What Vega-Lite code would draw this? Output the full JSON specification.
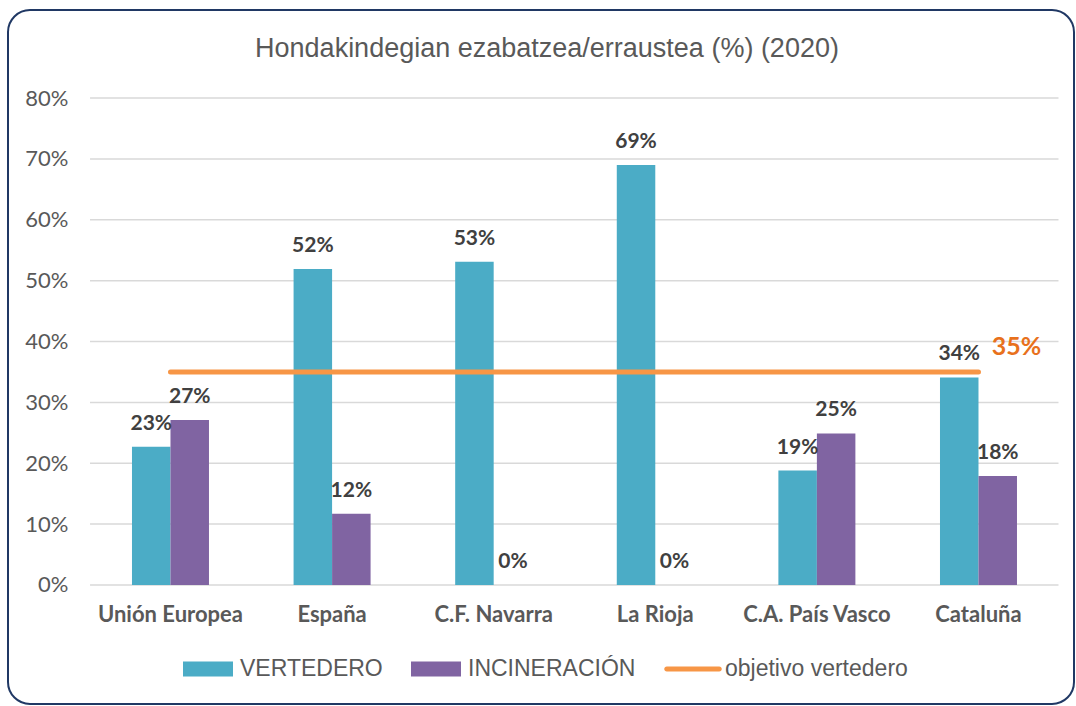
{
  "$schema": "https://vega.github.io/schema/vega-lite/v6.json",
  "width": 1066,
  "height": 694,
  "autosize": {"type": "none"},
  "padding": {"left": 8, "top": 10, "right": 2, "bottom": 2},
  "background": "white",
  "config": {
    "view": {"stroke": "#203864", "strokeWidth": 2, "cornerRadius": 22, "fill": "white"}
  },
  "title": {
    "text": "Hondakindegian ezabatzea/erraustea (%) (2020)",
    "font": "Liberation Sans Narrow, Arial Narrow, Liberation Sans, sans-serif",
    "fontSize": 27,
    "fontWeight": "normal",
    "color": "#595959",
    "anchor": "middle",
    "frame": "group",
    "orient": "top",
    "offset": -66,
    "baseline": "middle",
    "dx": 6
  },
  "datasets": {
    "bars": [
      {"categoria": "Unión Europea", "serie": "VERTEDERO", "valor": 0.227},
      {"categoria": "Unión Europea", "serie": "INCINERACIÓN", "valor": 0.271},
      {"categoria": "España", "serie": "VERTEDERO", "valor": 0.519},
      {"categoria": "España", "serie": "INCINERACIÓN", "valor": 0.117},
      {"categoria": "C.F. Navarra", "serie": "VERTEDERO", "valor": 0.531},
      {"categoria": "C.F. Navarra", "serie": "INCINERACIÓN", "valor": 0},
      {"categoria": "La Rioja", "serie": "VERTEDERO", "valor": 0.69},
      {"categoria": "La Rioja", "serie": "INCINERACIÓN", "valor": 0},
      {"categoria": "C.A. País Vasco", "serie": "VERTEDERO", "valor": 0.188},
      {"categoria": "C.A. País Vasco", "serie": "INCINERACIÓN", "valor": 0.249},
      {"categoria": "Cataluña", "serie": "VERTEDERO", "valor": 0.341},
      {"categoria": "Cataluña", "serie": "INCINERACIÓN", "valor": 0.179}
    ],
    "target": [
      {"categoria": "Unión Europea", "serie": "objetivo vertedero", "valor": 0.35},
      {"categoria": "España", "serie": "objetivo vertedero", "valor": 0.35},
      {"categoria": "C.F. Navarra", "serie": "objetivo vertedero", "valor": 0.35},
      {"categoria": "La Rioja", "serie": "objetivo vertedero", "valor": 0.35},
      {"categoria": "C.A. País Vasco", "serie": "objetivo vertedero", "valor": 0.35},
      {"categoria": "Cataluña", "serie": "objetivo vertedero", "valor": 0.35}
    ],
    "grid": [
      {"valor": 0}, {"valor": 0.1}, {"valor": 0.2}, {"valor": 0.3}, {"valor": 0.4},
      {"valor": 0.5}, {"valor": 0.6}, {"valor": 0.7}, {"valor": 0.8}
    ]
  },
  "encoding": {
    "y": {
      "field": "valor",
      "type": "quantitative",
      "title": null,
      "scale": {"domain": [-0.1955, 0.9446], "nice": false, "zero": false},
      "axis": {
        "values": [0, 0.1, 0.2, 0.3, 0.4, 0.5, 0.6, 0.7, 0.8],
        "format": ".0%",
        "offset": -60,
        "labelPadding": 0,
        "ticks": false,
        "domain": false,
        "grid": false,
        "labelFont": "Lato",
        "labelFontSize": 22,
        "labelColor": "#595959"
      }
    },
    "x": {
      "field": "categoria",
      "type": "nominal",
      "title": null,
      "sort": null,
      "scale": {
        "domain": ["Unión Europea", "España", "C.F. Navarra", "La Rioja", "C.A. País Vasco", "Cataluña"],
        "paddingInner": 0.5235,
        "paddingOuter": 0.56,
        "align": 0.685,
        "round": false
      },
      "axis": {
        "orient": "bottom",
        "offset": -119,
        "labelAngle": 0,
        "ticks": false,
        "domain": false,
        "grid": false,
        "labelFont": "Lato",
        "labelFontWeight": "bold",
        "labelFontSize": 22,
        "labelColor": "#595959",
        "labelPadding": 19,
        "labelLimit": 0
      }
    }
  },
  "layer": [
    {
      "data": {"name": "grid"},
      "mark": {"type": "rule", "color": "#D9D9D9", "strokeWidth": 1.5},
      "encoding": {
        "x": {"datum": "Unión Europea", "type": "nominal", "bandPosition": -0.545},
        "x2": {"datum": "Cataluña", "bandPosition": 1.539}
      }
    },
    {
      "data": {"name": "bars"},
      "mark": {"type": "bar"},
      "encoding": {
        "xOffset": {
          "field": "serie",
          "type": "nominal",
          "sort": null,
          "scale": {"domain": ["VERTEDERO", "INCINERACIÓN"], "paddingInner": 0, "paddingOuter": 0}
        },
        "y2": {"datum": 0},
        "color": {
          "field": "serie",
          "type": "nominal",
          "scale": {
            "domain": ["VERTEDERO", "INCINERACIÓN", "objetivo vertedero"],
            "range": ["#4BACC6", "#8064A2", "#F79646"]
          },
          "legend": {
            "orient": "none",
            "legendX": 175,
            "legendY": 634,
            "direction": "horizontal",
            "title": null,
            "labelFont": "Liberation Sans Narrow, Arial Narrow, Liberation Sans, sans-serif",
            "labelFontSize": 23,
            "labelColor": "#595959",
            "symbolType": "M-1,-0.3H1V0.3H-1Z",
            "symbolSize": 2500,
            "labelOffset": 7,
            "columnPadding": 28,
            "padding": 0,
            "labelLimit": 400,
            "symbolStrokeWidth": 0,
            "encode": {
              "symbols": {
                "update": {
                  "shape": {"signal": "datum.value === 'objetivo vertedero' ? 'M-1.05,-0.1H1.05A0.1,0.1 0 0 1 1.05,0.1H-1.05A0.1,0.1 0 0 1 -1.05,-0.1Z' : 'M-1,-0.3H1V0.3H-1Z'"},
                  "fill": {"scale": "color", "field": "value"},
                  "fillOpacity": {"value": 1},
                  "opacity": {"value": 1},
                  "strokeWidth": {"value": 0}
                }
              }
            }
          }
        }
      }
    },
    {
      "data": {"name": "target"},
      "mark": {"type": "line", "strokeWidth": 5, "strokeCap": "round"},
      "encoding": {
        "color": {"field": "serie", "type": "nominal"}
      }
    },
    {
      "data": {"name": "bars"},
      "mark": {
        "type": "text",
        "baseline": "alphabetic",
        "dy": -17,
        "font": "Lato",
        "fontWeight": "bold",
        "fontSize": 21,
        "color": "#404040"
      },
      "encoding": {
        "xOffset": {"field": "serie", "type": "nominal", "sort": null},
        "text": {"field": "valor", "type": "quantitative", "format": ".0%"}
      }
    },
    {
      "data": {"name": "target"},
      "transform": [{"filter": "datum.categoria === 'Cataluña'"}],
      "mark": {
        "type": "text",
        "baseline": "alphabetic",
        "dx": 38,
        "dy": -17,
        "font": "Lato",
        "fontWeight": "bold",
        "fontSize": 25,
        "color": "#E8711C"
      },
      "encoding": {
        "text": {"field": "valor", "type": "quantitative", "format": ".0%"}
      }
    }
  ]
}
